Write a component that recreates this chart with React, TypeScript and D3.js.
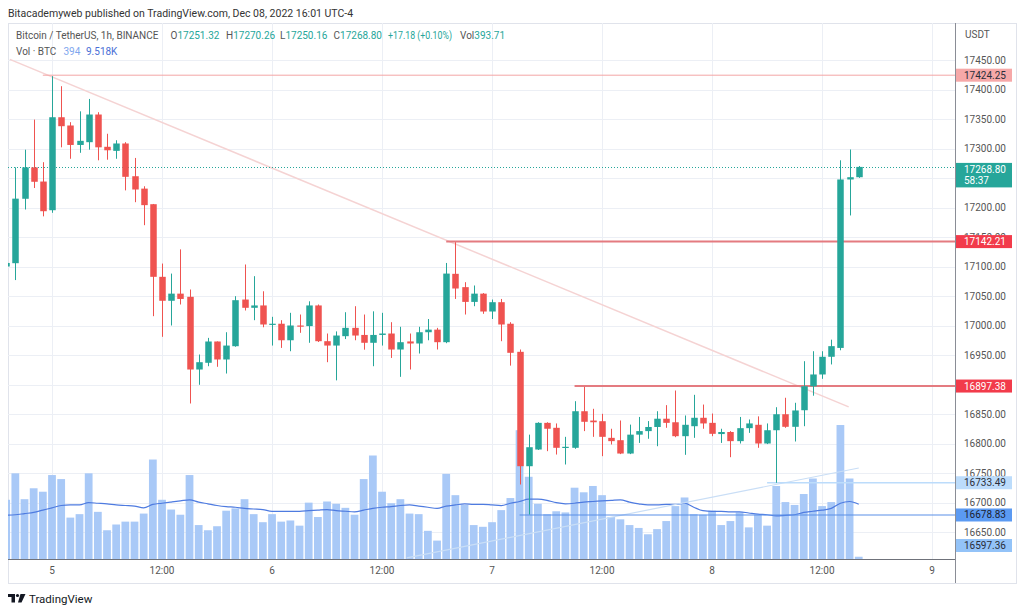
import React, { useEffect, useRef } from 'react';
import * as d3 from 'd3';

// BTC/USDT 1h, first candle is Dec 4 19:00 (mostly hidden behind the left edge)
const FIRST_HOUR = -5; // hours relative to Dec 5 00:00
const DEC5 = Date.UTC(2022, 11, 5, 0);

const opens = [
  17100, 17105.6, 17214.8, 17268, 17244, 17195.4, 17353, 17339, 17306, 17310.7,
  17357.6, 17302.9, 17296, 17308.5, 17253, 17232, 17205.6, 17082.5, 17041.9, 17054,
  17048.6, 16925.4, 16936.8, 16972.9, 16942.4, 16964.9, 17044, 17030, 17034, 17001.7,
  17003, 16975, 17000, 16999, 17034, 16973.4, 16966, 16981.9, 16996, 16984,
  16970.7, 16984, 16986.4, 16959.3, 16973, 16969.5, 16988.6, 16993, 16971.7, 17087.6,
  17065, 17040, 17054, 17023.7, 17039.5, 17003, 16955.4, 16761.5, 16789.8, 16835,
  16826.6, 16792.7, 16792.7, 16854.7, 16838.9, 16837.8, 16809.6, 16805.6, 16783, 16815,
  16821, 16828, 16842, 16836, 16812.4, 16829.3, 16843.6, 16835, 16816, 16819.5,
  16804, 16826, 16831.7, 16800, 16822.5, 16849.6, 16828.3, 16856.4, 16897, 16917,
  16947, 16962, 17247.5, 17251.32,
];
const highs = [
  17108, 17268, 17298, 17349, 17276.8, 17422.6, 17405.6, 17344.6, 17363, 17384,
  17361.5, 17325, 17314, 17310.7, 17284, 17236, 17206, 17105, 17088, 17129,
  17061, 16950.8, 16979, 16973, 16988.6, 17049.7, 17103.4, 17083.6, 17058, 17014.7,
  17009, 17021.5, 17018.6, 17041, 17035.6, 16986.4, 16990, 17022.5, 17032.7, 17018.6,
  17024, 17021.5, 17005.6, 16997.8, 16986.4, 16997.8, 17011, 16996, 17106, 17141.2,
  17073.4, 17067.8, 17055, 17044, 17045, 17005.6, 16959.3, 16815, 16836, 16836,
  16834, 16811.3, 16871.7, 16896, 16858.8, 16850.3, 16825, 16839, 16832, 16845,
  16838, 16854.7, 16865, 16889.8, 16847.5, 16882.5, 16866, 16850.8, 16825, 16821,
  16845, 16840.7, 16846, 16834, 16861.5, 16877.5, 16869, 16939.5, 16956.4, 16956.4,
  16976, 17280, 17298.3, 17270.26,
];
const lows = [
  17097, 17077, 17196.6, 17233, 17185, 17191, 17302, 17282.6, 17292.7, 17298,
  17280, 17281, 17282.6, 17229, 17209, 17170, 17015.8, 16980.8, 17000, 17035.6,
  16867.8, 16899.5, 16931, 16930, 16918.6, 16964, 17025.4, 17009, 16997, 16966,
  16962, 16956.4, 16987.6, 16970.7, 16972, 16937.8, 16907, 16977, 16975, 16959,
  16931, 16966, 16945, 16913, 16925.4, 16952.5, 16975, 16959.3, 16970, 17045,
  17018.6, 17032.7, 17019.8, 17011, 16973.4, 16932, 16730.5, 16679.6, 16789, 16787,
  16781.3, 16764.4, 16791, 16821, 16811.3, 16778.5, 16798.3, 16782, 16782, 16801,
  16808, 16795.4, 16826.6, 16810.7, 16780.8, 16809.6, 16825, 16812.4, 16801, 16776.8,
  16800, 16818, 16792.7, 16799, 16733.4, 16826.6, 16803.4, 16829.3, 16881, 16909.6,
  16934, 16958, 17186.5, 17250.16,
];
const closes = [
  17106, 17215, 17268, 17243.6, 17193.7, 17353, 17337.8, 17306, 17313, 17357.6,
  17302, 17297, 17308.5, 17252, 17230.5, 17204, 17082.5, 17041.9, 17054, 17045,
  16925.4, 16937.8, 16972.9, 16942.4, 16966, 17042.9, 17030, 17034, 17001.7, 17003,
  16975, 17000, 16999, 17034, 16973.4, 16966, 16983, 16996, 16983, 16970.7,
  16984, 16986.4, 16959.3, 16971.7, 16969.5, 16988.6, 16993, 16971.7, 17088, 17062.7,
  17040, 17054, 17023.7, 17039.5, 17001.7, 16953.7, 16761.5, 16793.7, 16835, 16825,
  16792.7, 16794.4, 16854.7, 16836.8, 16836, 16811.3, 16804, 16783, 16815, 16821,
  16828, 16842, 16835, 16812.4, 16831.7, 16843.6, 16834, 16816.4, 16819.5, 16804,
  16826, 16834, 16800, 16822.5, 16849.6, 16828.3, 16856, 16897, 16917, 16947,
  16965, 17247.5, 17251.32, 17268.8,
];
// volume in thousands of BTC and its moving average
const volumes = [
  10.3, 14.9, 10.4, 12.3, 11.7, 14.6, 13.9, 7.2, 7.8, 14.9,
  8.2, 5.0, 6.0, 6.5, 6.5, 7.9, 17.3, 10.3, 8.6, 7.7,
  14.6, 5.9, 5.0, 5.7, 8.4, 8.8, 10.4, 7.8, 6.4, 7.8,
  6.5, 6.7, 5.8, 9.8, 7.3, 10.0, 9.6, 8.9, 7.7, 13.9,
  18.0, 11.7, 9.7, 10.4, 7.9, 7.8, 4.9, 3.2, 14.8, 11.1,
  9.4, 5.9, 5.6, 6.4, 8.5, 10.6, 22.4, 14.3, 9.6, 7.8,
  8.3, 8.1, 12.4, 11.6, 12.7, 11.1, 7.3, 6.9, 5.9, 5.4,
  4.3, 5.2, 6.6, 9.2, 10.7, 7.8, 7.7, 8.4, 5.9, 6.6,
  8.1, 5.5, 7.7, 5.8, 12.7, 9.9, 9.4, 11.3, 14.0, 9.2,
  9.9, 23.3, 14.0, 0.394,
];
const volumeMA = [
  7.6, 7.7, 7.9, 8.1, 8.5, 8.9, 9.3, 9.4, 9.4, 9.8,
  9.7, 9.6, 9.4, 9.3, 9.2, 8.9, 9.5, 9.7, 9.9, 10.1,
  10.3, 9.9, 9.6, 9.3, 9.1, 9.0, 8.8, 8.7, 8.6, 8.3,
  8.3, 8.3, 8.3, 8.4, 8.5, 8.6, 8.4, 8.3, 8.2, 8.5,
  8.8, 9.0, 9.1, 9.3, 9.4, 9.2, 9.0, 8.8, 9.2, 9.4,
  9.6, 9.5, 9.5, 9.4, 9.3, 9.7, 10.0, 10.4, 10.4, 10.2,
  9.8, 9.6, 9.7, 9.9, 10.0, 10.1, 10.2, 10.3, 9.9, 9.6,
  9.4, 9.4, 9.5, 9.5, 9.7, 9.0, 8.4, 8.3, 8.3, 8.2,
  8.2, 8.0, 7.8, 7.7, 7.5, 7.6, 7.7, 8.1, 8.3, 8.5,
  8.8, 9.7, 10.0, 9.518,
];

const gridPrices = [17450, 17400, 17350, 17300, 17250, 17200, 17150, 17100, 17050, 17000, 16950, 16900, 16850, 16800, 16750, 16700, 16650];
// 17250 and 16900 sit fully under the price markers, so they get no label
const priceTickLabels = [17450, 17400, 17350, 17300, 17200, 17150, 17100, 17050, 17000, 16950, 16850, 16800, 16750, 16700, 16650];
const timeTickHours = [0, 12, 24, 36, 48, 60, 72, 84, 96];
const timeTickLabels = ['5', '12:00', '6', '12:00', '7', '12:00', '8', '12:00', '9'];

// horizontal levels drawn on the chart: price and the hour where they start
const levelPrices = [17424.25, 17142.21, 16897.38, 16733.49, 16678.83];
const levelStartHours = [-1, 43, 57, 78, 51];
// trend lines: [hour, price] end points
const downTrend: [number, number][] = [[-4.6, 17451], [86.9, 16862]];
const upTrend: [number, number][] = [[38.7, 16606], [88.0, 16758.5]];
// price-scale markers
const markerPrices = [17424.25, 17142.21, 16897.38, 16733.49, 16678.83, 16597.36];

const FONT = "Roboto, 'Open Sans', sans-serif";
const UP = '#26a69a';
const DOWN = '#ef5350';

const App: React.FC = () => {
  const svgRef = useRef<SVGSVGElement>(null);

  useEffect(() => {
    if (!svgRef.current) return;
    const svg = d3.select(svgRef.current);
    svg.selectAll('*').remove();

    const left = 8, right = 955, top = 23, paneBottom = 559, boxBottom = 583, boxRight = 1016;
    const hourMs = 3600e3;
    const toDate = (h: number) => new Date(DEC5 + h * hourMs);

    const x = d3.scaleUtc()
      .domain([toDate(-4.8), toDate(98.5)])
      .range([left, right]);
    const y = d3.scaleLinear().domain([16650, 17450]).range([532, 60]);
    const yVol = d3.scaleLinear().domain([0, 24]).range([paneBottom, paneBottom - 138]);
    const step = x(toDate(1)) - x(toDate(0));

    const candles = opens.map((o, k) => ({
      t: toDate(FIRST_HOUR + k), o, h: highs[k], l: lows[k], c: closes[k], v: volumes[k], ma: volumeMA[k],
    }));

    svg.append('defs').append('clipPath').attr('id', 'pane')
      .append('rect').attr('x', left).attr('y', top).attr('width', right - left).attr('height', paneBottom - top);

    // header
    svg.append('text').attr('x', 8).attr('y', 17).attr('font-family', FONT).attr('font-size', 10.5)
      .attr('fill', '#333').text('Bitacademyweb published on TradingView.com, Dec 08, 2022 16:01 UTC-4');

    // chart frame
    svg.append('rect').attr('x', left + 0.5).attr('y', top + 0.5)
      .attr('width', boxRight - left).attr('height', boxBottom - top)
      .attr('fill', 'none').attr('stroke', '#e0e3eb');

    const pane = svg.append('g').attr('clip-path', 'url(#pane)');

    // grid
    pane.selectAll('line.hg').data(gridPrices).join('line')
      .attr('x1', left).attr('x2', right)
      .attr('y1', d => Math.round(y(d)) + 0.5).attr('y2', d => Math.round(y(d)) + 0.5)
      .attr('stroke', '#eceff5');
    pane.selectAll('line.vg').data(timeTickHours).join('line')
      .attr('y1', top).attr('y2', paneBottom)
      .attr('x1', d => Math.round(x(toDate(d))) + 0.5).attr('x2', d => Math.round(x(toDate(d))) + 0.5)
      .attr('stroke', '#eceff5');

    // volume
    pane.selectAll('rect.vol').data(candles).join('rect')
      .attr('x', d => x(d.t) - (step - 1.4) / 2)
      .attr('width', step - 1.4)
      .attr('y', d => yVol(d.v))
      .attr('height', d => paneBottom - yVol(d.v))
      .attr('fill', '#a9c9f7');
    pane.append('path').datum(candles)
      .attr('d', d3.line<any>().x(d => x(d.t)).y(d => yVol(d.ma)).curve(d3.curveMonotoneX))
      .attr('fill', 'none').attr('stroke', '#4e7be0').attr('stroke-width', 1.2);

    // trend lines
    const trend = (pts: [number, number][], color: string, w: number) => {
      pane.append('line')
        .attr('x1', x(toDate(pts[0][0]))).attr('y1', y(pts[0][1]))
        .attr('x2', x(toDate(pts[1][0]))).attr('y2', y(pts[1][1]))
        .attr('stroke', color).attr('stroke-width', w);
    };
    trend(downTrend, '#f5d3d3', 1.5);
    trend(upTrend, '#c9def6', 1.2);

    // level lines
    const levelColors = ['#f3a5a5', '#e47b80', '#e47b80', '#bcdcfb', '#5b8fe8'];
    const levelWidths = [1, 2, 2, 1.5, 1.2];
    levelPrices.forEach((p, k) => {
      pane.append('line')
        .attr('x1', x(toDate(levelStartHours[k]))).attr('x2', right)
        .attr('y1', y(p)).attr('y2', y(p))
        .attr('stroke', levelColors[k]).attr('stroke-width', levelWidths[k]);
    });

    // last price dotted line
    const last = closes[closes.length - 1];
    pane.append('line')
      .attr('x1', left).attr('x2', right)
      .attr('y1', Math.round(y(last)) + 0.5).attr('y2', Math.round(y(last)) + 0.5)
      .attr('stroke', UP).attr('stroke-dasharray', '1,2');

    // candles
    const cg = pane.selectAll('g.candle').data(candles).join('g');
    cg.append('line')
      .attr('x1', d => Math.round(x(d.t)) + 0.5).attr('x2', d => Math.round(x(d.t)) + 0.5)
      .attr('y1', d => y(d.h)).attr('y2', d => y(d.l))
      .attr('stroke', d => (d.c >= d.o ? UP : DOWN)).attr('stroke-width', 1);
    cg.append('rect')
      .attr('x', d => Math.round(x(d.t)) + 0.5 - 3.25)
      .attr('width', 6.5)
      .attr('y', d => y(Math.max(d.o, d.c)))
      .attr('height', d => Math.max(1.2, Math.abs(y(d.o) - y(d.c))))
      .attr('fill', d => (d.c >= d.o ? UP : DOWN));

    // axes lines
    svg.append('line').attr('x1', right + 0.5).attr('x2', right + 0.5).attr('y1', top).attr('y2', boxBottom)
      .attr('stroke', '#8a8d96');
    svg.append('line').attr('x1', left).attr('x2', right).attr('y1', paneBottom + 0.5).attr('y2', paneBottom + 0.5)
      .attr('stroke', '#6f727a');

    // price axis labels
    svg.append('text').attr('x', 965).attr('y', 38).attr('font-family', FONT).attr('font-size', 10)
      .attr('fill', '#555').text('USDT');
    svg.selectAll('text.pt').data(priceTickLabels).join('text')
      .attr('x', 964).attr('y', d => y(d) + 3.5)
      .attr('font-family', FONT).attr('font-size', 10).attr('fill', '#555')
      .text(d => d3.format('.2f')(d));

    // time axis labels
    svg.selectAll('text.tt').data(timeTickHours).join('text')
      .attr('x', d => x(toDate(d))).attr('y', 573.5)
      .attr('text-anchor', 'middle')
      .attr('font-family', FONT).attr('font-size', 10).attr('fill', '#555')
      .text((d, k) => timeTickLabels[k]);

    // price markers
    const markerBg = ['#f6a8a8', '#f23b4b', '#f23b4b', '#bcdcfb', '#5b9af2', '#93c3f8'];
    const markerFg = ['#2a2e39', '#fff', '#fff', '#2a2e39', '#1c2230', '#2a2e39'];
    markerPrices.forEach((p, k) => {
      const cy = Math.min(y(p), 545.5);
      svg.append('rect').attr('x', right + 1).attr('y', cy - 6.5).attr('width', 56).attr('height', 13)
        .attr('fill', markerBg[k]);
      svg.append('text').attr('x', 964).attr('y', cy + 3.5)
        .attr('font-family', FONT).attr('font-size', 10).attr('fill', markerFg[k])
        .text(d3.format('.2f')(p));
    });
    const ly = y(last);
    svg.append('rect').attr('x', right + 1).attr('y', ly - 4).attr('width', 56).attr('height', 24.5)
      .attr('fill', UP);
    svg.append('text').attr('x', 964).attr('y', ly + 6)
      .attr('font-family', FONT).attr('font-size', 10).attr('fill', '#fff').text(d3.format('.2f')(last));
    svg.append('text').attr('x', 964).attr('y', ly + 17)
      .attr('font-family', FONT).attr('font-size', 10).attr('fill', '#fff').text('58:37');

    // legend
    const legend = svg.append('g').attr('font-family', FONT).attr('font-size', 10);
    legend.append('text').attr('x', 16).attr('y', 39).attr('fill', '#555').text('Bitcoin / TetherUS, 1h, BINANCE');
    const lastC = candles[candles.length - 1];
    const ohlc: [string, string, number][] = [
      ['O', d3.format('.2f')(lastC.o), 170.5],
      ['H', d3.format('.2f')(lastC.h), 226],
      ['L', d3.format('.2f')(lastC.l), 280],
      ['C', d3.format('.2f')(lastC.c), 333.5],
    ];
    ohlc.forEach(([k, v, px]) => {
      const t = legend.append('text').attr('x', px).attr('y', 39);
      t.append('tspan').attr('fill', '#555').text(k);
      t.append('tspan').attr('fill', UP).text(v);
    });
    legend.append('text').attr('x', 388).attr('y', 39).attr('fill', UP)
      .attr('textLength', 64).attr('lengthAdjust', 'spacingAndGlyphs').text('+17.18 (+0.10%)');
    const vt = legend.append('text').attr('x', 460).attr('y', 39);
    vt.append('tspan').attr('fill', '#555').text('Vol');
    vt.append('tspan').attr('fill', UP).text('393.71');
    const v2 = legend.append('text').attr('x', 16).attr('y', 55);
    v2.append('tspan').attr('fill', '#555').text('Vol · BTC');
    legend.append('text').attr('x', 63.5).attr('y', 55).attr('fill', '#7fa7ee').text('394');
    legend.append('text').attr('x', 86).attr('y', 55).attr('fill', '#4a6fd6').text('9.518K');

    // TradingView logo
    const logo = svg.append('g').attr('fill', '#131722');
    logo.append('rect').attr('x', 8).attr('y', 594).attr('width', 7).attr('height', 3);
    logo.append('rect').attr('x', 11.5).attr('y', 594).attr('width', 3.5).attr('height', 8.5);
    logo.append('circle').attr('cx', 17.5).attr('cy', 595.5).attr('r', 1.6);
    logo.append('path').attr('d', 'M20.5 594 L25.5 594 L21.5 602.5 L18 602.5 Z');
    svg.append('text').attr('x', 29).attr('y', 602.5).attr('font-family', FONT).attr('font-size', 11.5)
      .attr('fill', '#131722').text('TradingView');
  }, []);

  return (
    <svg
      ref={svgRef}
      width={1024}
      height={613}
      style={{ position: 'absolute', left: 0, top: 0, background: '#fff' }}
    />
  );
};

export default App;
